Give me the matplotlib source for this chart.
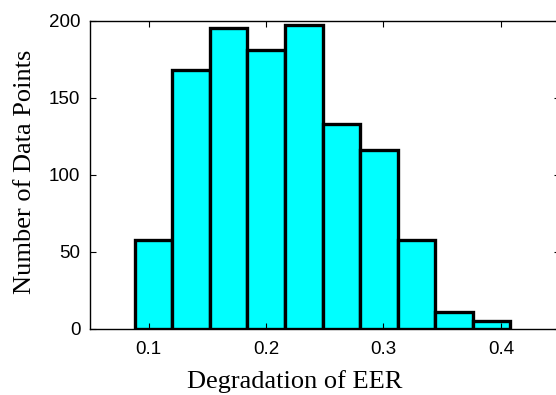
import matplotlib

matplotlib.use("Agg")
import matplotlib.pyplot as plt

# histogram of EER degradation (bin edges and counts)
BIN_LEFT = 0.0881
BIN_WIDTH = 0.0320
COUNTS = [58, 168, 195, 181, 197, 133, 116, 58, 11, 5]

XTICKS = [0.1, 0.2, 0.3, 0.4]
YTICKS = [0, 50, 100, 150, 200]

fig = plt.figure(figsize=(5.56, 3.95), dpi=100)
ax = fig.add_axes([0.1619, 0.1671, 0.8444, 0.7805])

lefts = [BIN_LEFT + i * BIN_WIDTH for i in range(len(COUNTS))]
ax.bar(lefts, COUNTS, width=BIN_WIDTH, align="edge",
       color="#00ffff", edgecolor="black", linewidth=2.4)

ax.set_xlim(0.05, 0.45)
ax.set_ylim(0, 200)
ax.set_xticks(XTICKS)
ax.set_yticks(YTICKS)
ax.set_xticklabels([f"{t:g}" for t in XTICKS])
ax.tick_params(direction="in", top=True, right=True, length=4, width=0.8,
               labelsize=13.5)
ax.tick_params(axis="x", pad=9)
ax.tick_params(axis="y", pad=7)
for lab in ax.get_xticklabels() + ax.get_yticklabels():
    lab.set_family("Liberation Sans")
for s in ax.spines.values():
    s.set_linewidth(1.0)

ax.set_xlabel("Degradation of EER", family="Liberation Serif", fontsize=19,
              va="top")
ax.xaxis.set_label_coords(0.4356, -0.133)
ax.set_ylabel("Number of Data Points", family="Liberation Serif", fontsize=19)
ax.yaxis.set_label_coords(-0.115, 0.511)

fig.savefig("out.png", dpi=100)
